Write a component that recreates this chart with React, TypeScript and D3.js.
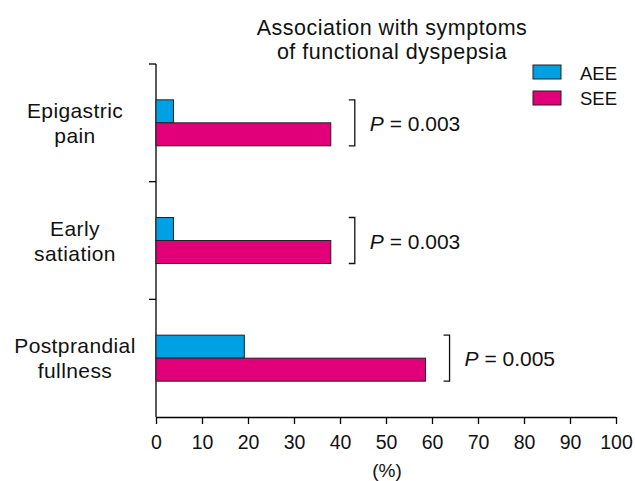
import React, { useEffect, useRef } from "react";
import * as d3 from "d3";

const categories = [["Epigastric", "pain"], ["Early", "satiation"], ["Postprandial", "fullness"]];
const seriesNames = ["AEE", "SEE"];
const aeeValues = [3.8, 3.8, 19.2];
const seeValues = [38.0, 38.0, 58.6];
const pLabels = ["0.003", "0.003", "0.005"];
const xTicks = [0, 10, 20, 30, 40, 50, 60, 70, 80, 90, 100];
const colors = ["#00a0e4", "#e2007a"];

const W = 635;
const H = 481;
const FONT = "Liberation Sans, Arial, sans-serif";
const NARROW = "Liberation Sans Narrow, Arial Narrow, sans-serif";

const App = () => {
  const ref = useRef<SVGSVGElement>(null);

  useEffect(() => {
    const svg = d3.select(ref.current);
    svg.selectAll("*").remove();

    const left = 156, right = 616, top = 64, bottom = 417;
    const x = d3.scaleLinear().domain([0, 100]).range([left, right]);
    const y = d3.scaleBand().domain(categories.map((d, i) => String(i))).range([top, bottom]);
    const barH = 23;

    // title
    const title = svg.append("text").attr("font-family", FONT).attr("font-size", 21.5)
      .attr("letter-spacing", 0.5).attr("text-anchor", "middle").attr("fill", "#111");
    title.append("tspan").attr("x", 392).attr("y", 35).text("Association with symptoms");
    title.append("tspan").attr("x", 392).attr("y", 59).text("of functional dyspepsia");

    // x axis
    const xAxis = svg.append("g").attr("transform", `translate(0,${bottom})`)
      .call(d3.axisBottom(x).tickValues(xTicks).tickSize(7).tickSizeOuter(0));
    xAxis.select(".domain").attr("stroke", "#000").attr("stroke-width", 1.3);
    xAxis.selectAll(".tick line").attr("stroke-width", 1.3);
    xAxis.selectAll("text").attr("font-family", NARROW).attr("font-size", 19.5)
      .attr("dy", 0).attr("y", 31.5).attr("fill", "#111");

    // y axis
    const yAxis = svg.append("g").attr("transform", `translate(${left},0)`);
    yAxis.append("line").attr("y1", top).attr("y2", bottom).attr("stroke", "#000").attr("stroke-width", 1.3);
    const boundaries = [top, ...categories.slice(1).map((d, i) => y(String(i + 1)) as number)];
    yAxis.selectAll("line.tk").data(boundaries).enter().append("line").attr("class", "tk")
      .attr("x1", -7).attr("x2", 0).attr("y1", d => d).attr("y2", d => d)
      .attr("stroke", "#000").attr("stroke-width", 1.3);

    // category labels
    categories.forEach((lines, i) => {
      const c = (y(String(i)) as number) + y.bandwidth() / 2;
      const t = svg.append("text").attr("font-family", FONT).attr("font-size", 21)
        .attr("letter-spacing", 0.4).attr("text-anchor", "middle").attr("fill", "#111");
      t.append("tspan").attr("x", 75).attr("y", c - 5).text(lines[0]);
      t.append("tspan").attr("x", 75).attr("y", c + 20).text(lines[1]);
    });

    // bars
    const g = svg.append("g");
    categories.forEach((_, i) => {
      const c = (y(String(i)) as number) + y.bandwidth() / 2;
      const vals = [aeeValues[i], seeValues[i]];
      g.selectAll(`rect.b${i}`).data(vals).enter().append("rect")
        .attr("x", x(0)).attr("y", (d, j) => c - barH + j * barH)
        .attr("width", d => x(d) - x(0)).attr("height", barH)
        .attr("fill", (d, j) => colors[j]).attr("stroke", "#222").attr("stroke-width", 1);

      const bx = x(Math.max(...vals)) + 24;
      g.append("path")
        .attr("d", `M${bx - 6},${c - barH}H${bx}V${c + barH}H${bx - 6}`)
        .attr("fill", "none").attr("stroke", "#111").attr("stroke-width", 1.3);
      const pt = g.append("text").attr("x", bx + 15).attr("y", c + 8).attr("font-family", FONT)
        .attr("font-size", 21).attr("fill", "#111");
      pt.append("tspan").attr("font-style", "italic").text("P");
      pt.append("tspan").text(` = ${pLabels[i]}`);
    });

    // legend
    const lg = svg.append("g");
    seriesNames.forEach((name, i) => {
      lg.append("rect").attr("x", 533).attr("y", 65 + i * 26).attr("width", 28).attr("height", 14)
        .attr("fill", colors[i]).attr("stroke", "#222").attr("stroke-width", 1);
      lg.append("text").attr("x", 580).attr("y", 79.5 + i * 25.5).attr("font-family", NARROW)
        .attr("font-size", 18.5).attr("fill", "#111").text(name);
    });

    // x label
    svg.append("text").attr("x", 387).attr("y", 477).attr("text-anchor", "middle")
      .attr("font-family", NARROW).attr("font-size", 19).attr("fill", "#111").text("(%)");
  }, []);

  return (
    <svg ref={ref} width={W} height={H} style={{ position: "absolute", left: 0, top: 0, background: "#fff" }} />
  );
};

export default App;
